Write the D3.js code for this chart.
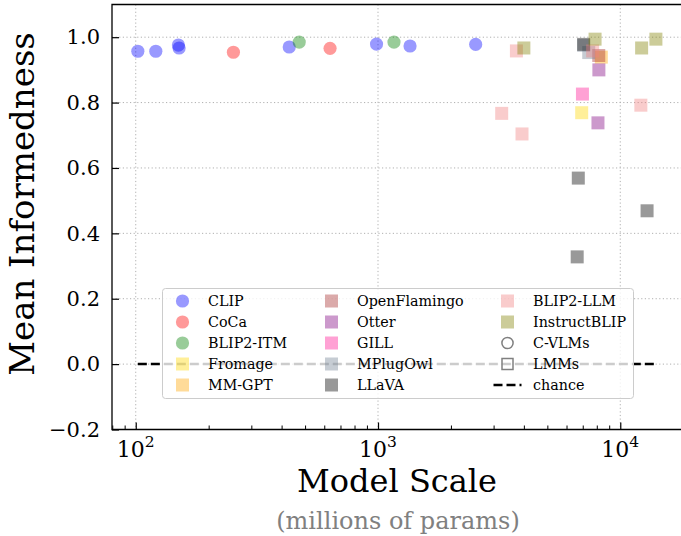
<!DOCTYPE html>
<html><head><meta charset="utf-8">
<script src="https://cdn.jsdelivr.net/npm/d3@7"></script>
<style>body{margin:0;background:#fff}svg{display:block}text{font-family:"DejaVu Serif",serif}</style>
</head><body><svg id="c" width="681" height="536"></svg>
<script>
// ---- data: [model scale (millions of params), mean informedness] ----
const clip        = [[102,0.957],[121,0.957],[150,0.976],[151,0.967],[430,0.970],[986,0.979],[1356,0.973],[2530,0.978]];
const coca        = [[253,0.954],[634,0.966]];
const blip2itm    = [[473,0.985],[1164,0.985]];
const fromage     = [[6930,0.769]];
const mmgpt       = [[8350,0.939]];
const openflamingo= [[8150,0.944]];
const otter       = [[8160,0.900],[8090,0.738]];
const gill        = [[6980,0.826]];
const mplugowl    = [[7060,0.975],[7410,0.953]];
const llava       = [[7060,0.978],[6710,0.569],[12900,0.469],[6640,0.328]];
const blip2llm    = [[3726,0.958],[7690,0.958],[3240,0.767],[3930,0.704],[12160,0.792]];
const instructblip= [[4000,0.967],[7870,0.994],[12250,0.967],[14030,0.994]];
const chance = 0.0;
const yTicks = [-0.2,0.0,0.2,0.4,0.6,0.8,1.0];
const xTicks = [100,1000,10000];
const xTickExp = ["2","3","4"];

const seriesList = [
  {name:"CLIP", data:clip, color:"#0000ff", shape:"circle"},
  {name:"CoCa", data:coca, color:"#ff0000", shape:"circle"},
  {name:"BLIP2-ITM", data:blip2itm, color:"#008000", shape:"circle"},
  {name:"Fromage", data:fromage, color:"#ffd700", shape:"square"},
  {name:"MM-GPT", data:mmgpt, color:"#ffa500", shape:"square"},
  {name:"OpenFlamingo", data:openflamingo, color:"#a52a2a", shape:"square"},
  {name:"Otter", data:otter, color:"#800080", shape:"square"},
  {name:"GILL", data:gill, color:"#ff1493", shape:"square"},
  {name:"MPlugOwl", data:mplugowl, color:"#708090", shape:"square"},
  {name:"LLaVA", data:llava, color:"#000000", shape:"square"},
  {name:"BLIP2-LLM", data:blip2llm, color:"#f08080", shape:"square"},
  {name:"InstructBLIP", data:instructblip, color:"#808000", shape:"square"}
];

const svg = d3.select("#c");
const L=112, R=685, T=4.5, B=429.5;
const x = d3.scaleLog().domain([79.8,18500]).range([L,R]);
const y = d3.scaleLinear().domain([-0.2,1.1]).range([B,T]);

// grid
const g = svg.append("g");
g.selectAll(".gx").data(xTicks).join("line")
  .attr("x1",d=>x(d)).attr("x2",d=>x(d)).attr("y1",T).attr("y2",B)
  .attr("stroke","#b0b0b0").attr("stroke-width",1).attr("stroke-dasharray","1.2,2.4");
g.selectAll(".gy").data(yTicks).join("line")
  .attr("x1",L).attr("x2",R).attr("y1",d=>y(d)).attr("y2",d=>y(d))
  .attr("stroke","#b0b0b0").attr("stroke-width",1).attr("stroke-dasharray","1.2,2.4");

// chance line
const allX = seriesList.flatMap(s=>s.data.map(d=>d[0]));
svg.append("line")
  .attr("x1",x(d3.min(allX))).attr("x2",x(d3.max(allX)))
  .attr("y1",y(chance)).attr("y2",y(chance))
  .attr("stroke","#000").attr("stroke-width",2.5).attr("stroke-dasharray","9,4");

// points
const SZ=13, RAD=6.6;
seriesList.forEach(s=>{
  const sel = svg.append("g").attr("fill",s.color).attr("fill-opacity",0.4);
  if(s.shape==="circle"){
    sel.selectAll("circle").data(s.data).join("circle")
      .attr("cx",d=>x(d[0])).attr("cy",d=>y(d[1])).attr("r",RAD);
  } else {
    sel.selectAll("rect").data(s.data).join("rect")
      .attr("x",d=>x(d[0])-SZ/2).attr("y",d=>y(d[1])-SZ/2).attr("width",SZ).attr("height",SZ);
  }
});

// axes (inward ticks)
const yAxis = d3.axisLeft(y).tickValues(yTicks).tickSize(-7).tickPadding(12)
  .tickFormat(d=>d3.format(".1f")(d).replace("-","\u2212"));
const ya = svg.append("g").attr("transform",`translate(${L},0)`).call(yAxis);
ya.select(".domain").remove();
ya.selectAll("line").attr("stroke","#000").attr("stroke-width",1.2);
ya.selectAll("text").attr("font-size",21).attr("fill","#000").attr("font-family","DejaVu Serif");

const minor=[];
[10,100,1000,10000].forEach(dec=>{for(let k=2;k<=9;k++){const v=dec*k; if(v>79.8&&v<18500) minor.push(v);}});
const xm = svg.append("g").attr("transform",`translate(0,${B})`)
  .call(d3.axisBottom(x).tickValues(minor).tickSize(-4).tickFormat(""));
xm.select(".domain").remove();
xm.selectAll("line").attr("stroke","#000").attr("stroke-width",1);
const xa = svg.append("g").attr("transform",`translate(0,${B})`)
  .call(d3.axisBottom(x).tickValues(xTicks).tickSize(-7).tickFormat(""));
xa.select(".domain").remove();
xa.selectAll("line").attr("stroke","#000").attr("stroke-width",1.2);
const xl = svg.append("g");
xTicks.forEach((t,i)=>{
  const tx = xl.append("text").attr("x",x(t)).attr("y",B+27).attr("text-anchor","middle").attr("font-size",22);
  tx.append("tspan").text("10");
  tx.append("tspan").text(xTickExp[i]).attr("font-size",15.5).attr("dy",-9.5);
});

// spines
svg.append("path").attr("d",`M${R},${T}H${L}V${B}H${R}`).attr("fill","none").attr("stroke","#000").attr("stroke-width",1.3);

// axis labels
svg.append("text").attr("transform","translate(34,204) rotate(-90)").attr("text-anchor","middle")
  .attr("font-size",34).text("Mean Informedness");
svg.append("text").attr("x",397).attr("y",492).attr("text-anchor","middle").attr("font-size",32).text("Model Scale");
svg.append("text").attr("x",398).attr("y",529).attr("text-anchor","middle").attr("font-size",24).attr("fill","#808080").text("(millions of params)");

// legend
const lg = svg.append("g");
lg.append("rect").attr("x",162.5).attr("y",288.5).attr("width",471).attr("height",110).attr("rx",3)
  .attr("fill","#fff").attr("fill-opacity",0.8).attr("stroke","#cccccc").attr("stroke-width",1);
const legendItems = seriesList.map(s=>({label:s.name,color:s.color,shape:s.shape==="circle"?"circle":"square",fill:true}))
  .concat([{label:"C-VLMs",shape:"circle",fill:false},{label:"LMMs",shape:"square",fill:false},{label:"chance",shape:"dash"}]);
const colMarkX=[182.5,331.5,507.5], colTextX=[208,357,533];
const rowY=[301,322,343,364,385];
legendItems.forEach((it,i)=>{
  const c=Math.floor(i/5), r=i%5, mx=colMarkX[c], my=rowY[r];
  if(it.shape==="dash"){
    lg.append("line").attr("x1",mx-14).attr("x2",mx+14).attr("y1",my).attr("y2",my)
      .attr("stroke","#000").attr("stroke-width",2.5).attr("stroke-dasharray","9,4");
  } else if(it.fill){
    if(it.shape==="circle") lg.append("circle").attr("cx",mx).attr("cy",my).attr("r",RAD).attr("fill",it.color).attr("fill-opacity",0.4);
    else lg.append("rect").attr("x",mx-SZ/2).attr("y",my-SZ/2).attr("width",SZ).attr("height",SZ).attr("fill",it.color).attr("fill-opacity",0.4);
  } else {
    if(it.shape==="circle") lg.append("circle").attr("cx",mx).attr("cy",my).attr("r",RAD-1).attr("fill","none").attr("stroke","#808080").attr("stroke-width",1.5);
    else lg.append("rect").attr("x",mx-SZ/2+1).attr("y",my-SZ/2+1).attr("width",SZ-2).attr("height",SZ-2).attr("fill","none").attr("stroke","#808080").attr("stroke-width",1.5);
  }
  lg.append("text").attr("x",colTextX[c]).attr("y",my+5).attr("font-size",14.3).text(it.label);
});
</script></body></html>
